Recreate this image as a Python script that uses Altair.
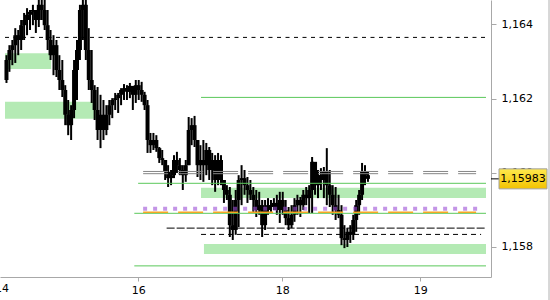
import altair as alt
import pandas as pd

# ---------------- data ----------------
opens = [1.16250, 1.16304, 1.16331, 1.16344, 1.16371, 1.16358, 1.16398, 1.16412, 1.16426, 1.16434,
         1.16439, 1.16412, 1.16453, 1.16439, 1.16398, 1.16358, 1.16317, 1.16344, 1.16277, 1.16250,
         1.16223, 1.16156, 1.16128, 1.16169, 1.16277, 1.16331, 1.16439, 1.16453, 1.16331, 1.16250,
         1.16223, 1.16169, 1.16115, 1.16156, 1.16115, 1.16156, 1.16182, 1.16196, 1.16201, 1.16210,
         1.16223, 1.16228, 1.16218, 1.16234, 1.16210, 1.16236, 1.16223, 1.16210, 1.16182, 1.16088,
         1.16074, 1.16088, 1.16066, 1.16039, 1.16034, 1.16002, 1.15985, 1.15993, 1.16034, 1.16020,
         1.16007, 1.15993, 1.16020, 1.16115, 1.16128, 1.16088, 1.16020, 1.16034, 1.16020, 1.16061,
         1.16007, 1.16034, 1.15980, 1.16034, 1.15980, 1.15953, 1.15940, 1.15858, 1.15845, 1.15926,
         1.15980, 1.15985, 1.15966, 1.15953, 1.15940, 1.15926, 1.15899, 1.15912, 1.15858, 1.15899,
         1.15912, 1.15907, 1.15918, 1.15899, 1.15926, 1.15899, 1.15877, 1.15858, 1.15886, 1.15912,
         1.15926, 1.15912, 1.15940, 1.15931, 1.15953, 1.16029, 1.15966, 1.15993, 1.15980, 1.16002,
         1.15966, 1.15940, 1.15912, 1.15899, 1.15886, 1.15823, 1.15818, 1.15840, 1.15832, 1.15872,
         1.15912, 1.15940, 1.16002, 1.15993]
highs = [1.16317, 1.16344, 1.16358, 1.16390, 1.16385, 1.16412, 1.16431, 1.16444, 1.16439, 1.16453,
         1.16434, 1.16480, 1.16480, 1.16474, 1.16439, 1.16385, 1.16371, 1.16358, 1.16317, 1.16304,
         1.16236, 1.16196, 1.16182, 1.16304, 1.16358, 1.16453, 1.16488, 1.16480, 1.16390, 1.16331,
         1.16236, 1.16231, 1.16210, 1.16196, 1.16182, 1.16196, 1.16201, 1.16215, 1.16215, 1.16228,
         1.16239, 1.16236, 1.16242, 1.16231, 1.16250, 1.16250, 1.16245, 1.16218, 1.16196, 1.16107,
         1.16107, 1.16101, 1.16069, 1.16061, 1.16034, 1.16020, 1.16007, 1.16047, 1.16056, 1.16039,
         1.16020, 1.16034, 1.16150, 1.16147, 1.16153, 1.16080, 1.16074, 1.16088, 1.16080, 1.16069,
         1.16053, 1.16047, 1.16053, 1.16047, 1.15972, 1.15966, 1.15961, 1.15926, 1.15953, 1.15993,
         1.16020, 1.16007, 1.15988, 1.15980, 1.15961, 1.15953, 1.15948, 1.15926, 1.15926, 1.15931,
         1.15926, 1.15931, 1.15940, 1.15948, 1.15948, 1.15926, 1.15907, 1.15912, 1.15931, 1.15940,
         1.15934, 1.15953, 1.15961, 1.15966, 1.16042, 1.16026, 1.16007, 1.16012, 1.16015, 1.16066,
         1.16007, 1.15966, 1.15961, 1.15940, 1.15912, 1.15858, 1.15850, 1.15858, 1.15886, 1.15926,
         1.15953, 1.16026, 1.16020, 1.16002]
lows = [1.16242, 1.16272, 1.16290, 1.16296, 1.16317, 1.16331, 1.16358, 1.16371, 1.16385, 1.16398,
        1.16377, 1.16393, 1.16412, 1.16385, 1.16331, 1.16304, 1.16263, 1.16258, 1.16223, 1.16204,
        1.16128, 1.16101, 1.16088, 1.16147, 1.16196, 1.16304, 1.16358, 1.16304, 1.16223, 1.16188,
        1.16142, 1.16088, 1.16066, 1.16088, 1.16101, 1.16128, 1.16147, 1.16169, 1.16161, 1.16182,
        1.16196, 1.16196, 1.16201, 1.16169, 1.16188, 1.16196, 1.16191, 1.16169, 1.16053, 1.16053,
        1.16061, 1.16056, 1.16026, 1.16020, 1.15980, 1.15961, 1.15966, 1.15985, 1.15999, 1.15993,
        1.15953, 1.15975, 1.16020, 1.16074, 1.16069, 1.15988, 1.15980, 1.15975, 1.15993, 1.15980,
        1.15966, 1.15948, 1.15966, 1.15966, 1.15918, 1.15926, 1.15826, 1.15818, 1.15832, 1.15853,
        1.15912, 1.15940, 1.15918, 1.15926, 1.15894, 1.15880, 1.15886, 1.15826, 1.15845, 1.15886,
        1.15894, 1.15899, 1.15886, 1.15864, 1.15886, 1.15858, 1.15845, 1.15850, 1.15867, 1.15886,
        1.15880, 1.15899, 1.15912, 1.15891, 1.15891, 1.15940, 1.15931, 1.15953, 1.15931, 1.15912,
        1.15907, 1.15886, 1.15872, 1.15877, 1.15804, 1.15796, 1.15799, 1.15810, 1.15818, 1.15840,
        1.15886, 1.15926, 1.15966, 1.15975]
closes = [1.16304, 1.16331, 1.16344, 1.16371, 1.16358, 1.16398, 1.16412, 1.16426, 1.16434, 1.16439,
          1.16412, 1.16453, 1.16439, 1.16398, 1.16358, 1.16317, 1.16344, 1.16277, 1.16250, 1.16223,
          1.16156, 1.16128, 1.16169, 1.16277, 1.16331, 1.16439, 1.16453, 1.16331, 1.16250, 1.16223,
          1.16169, 1.16115, 1.16156, 1.16115, 1.16156, 1.16182, 1.16196, 1.16201, 1.16210, 1.16223,
          1.16228, 1.16218, 1.16234, 1.16210, 1.16236, 1.16223, 1.16210, 1.16182, 1.16088, 1.16074,
          1.16088, 1.16066, 1.16039, 1.16034, 1.16002, 1.15985, 1.15993, 1.16034, 1.16020, 1.16007,
          1.15993, 1.16020, 1.16115, 1.16128, 1.16088, 1.16020, 1.16034, 1.16020, 1.16061, 1.16007,
          1.16034, 1.15980, 1.16034, 1.15980, 1.15953, 1.15940, 1.15858, 1.15845, 1.15926, 1.15980,
          1.15985, 1.15966, 1.15953, 1.15940, 1.15926, 1.15899, 1.15912, 1.15858, 1.15899, 1.15912,
          1.15907, 1.15918, 1.15899, 1.15926, 1.15899, 1.15877, 1.15858, 1.15886, 1.15912, 1.15926,
          1.15912, 1.15940, 1.15931, 1.15953, 1.16029, 1.15966, 1.15993, 1.15980, 1.16002, 1.15966,
          1.15940, 1.15912, 1.15899, 1.15886, 1.15823, 1.15818, 1.15840, 1.15832, 1.15872, 1.15912,
          1.15940, 1.16002, 1.15993, 1.15983]

X_MIN, X_END = -0.5, 163.17
Y_MIN, Y_MAX = 1.15718, 1.16466

# x axis: bar index; day labels ("14" sits just left of the visible range)
day_ticks = [-1.5, 44.83, 93.83, 140.83]
day_labels = ["14", "16", "18", "19"]
price_ticks = [1.158, 1.160, 1.162, 1.164]

# support / resistance zones (light green bands)
zone_top = [1.16322, 1.16191, 1.15959, 1.15807]
zone_bottom = [1.16280, 1.16145, 1.15931, 1.15780]
zone_start = [-0.5, -0.5, 66.2, 67.2]
zone_end = [15.2, 30.5, X_END, X_END]

# green levels
green_levels = [1.16203, 1.15971, 1.15890, 1.15748]
green_start = [66.2, 44.8, 43.5, 43.5]

# grey double level, orange level, purple dotted level
gray_levels = [1.16003, 1.15997]
orange_levels = [1.15893]
purple_levels = [1.15902]
seg_start, seg_end, purple_end = 46.5, 159.8, 161.5

# black dashed levels
dash_top_level = [1.16365]
dash_mid_level = [1.15850]
dash_mid_start = 54.5
dash_low_level = [1.15833]
dash_low_start = 66.2

# ---------------- chart ----------------
n = len(opens)
candles = pd.DataFrame({"i": list(range(n)), "open": opens, "high": highs,
                        "low": lows, "close": closes})

xs = alt.Scale(domain=[X_MIN, X_END], nice=False, zero=False)
ys = alt.Scale(domain=[Y_MIN, Y_MAX], nice=False, zero=False)

FONT = "DejaVu Sans"
AX_COL = "#a8a8a8"
axis_ticks = day_ticks[1:]
axis_labels = day_labels[1:]
label_expr_x = ("[" + ",".join("'%s'" % l for l in axis_labels) + "][indexof(["
                + ",".join(str(v) for v in axis_ticks) + "], datum.value)]")
xaxis = alt.Axis(values=axis_ticks, labelExpr=label_expr_x, title=None, grid=False,
                 domainColor=AX_COL, tickColor=AX_COL, tickSize=4, labelFont=FONT,
                 labelFontSize=11, labelColor="#000", labelFlush=False,
                 labelOverlap=False, labelPadding=3, zindex=0)
yaxis = alt.Axis(orient="right", values=price_ticks,
                 labelExpr="replace(format(datum.value, '.3f'), '.', ',')",
                 title=None, grid=False, domainColor=AX_COL, tickColor=AX_COL,
                 tickSize=5, labelFont=FONT, labelFontSize=11, labelColor="#000",
                 labelPadding=5, labelFlush=False, labelOverlap=False, zindex=0)


def X(f):
    return alt.X(f, type="quantitative", scale=xs, axis=xaxis)


def Y(f):
    return alt.Y(f, type="quantitative", scale=ys, axis=yaxis)


zones_df = pd.DataFrame({"top": zone_top, "bottom": zone_bottom,
                         "start": zone_start, "end": zone_end})
zones = alt.Chart(zones_df).mark_rect(color="#b4eab4", clip=True).encode(
    x=X("start"), x2="end", y=Y("top"), y2="bottom")

wicks = alt.Chart(candles).mark_rule(color="black", strokeWidth=2, clip=True).encode(
    x=X("i"), y=Y("low"), y2="high")
bodies = alt.Chart(candles).mark_bar(color="black", size=4, clip=True).encode(
    x=X("i"), y=Y("open"), y2="close")


def level_layer(levels, start, end, **mark):
    df = pd.DataFrame({"p": levels,
                       "s": start if isinstance(start, list) else [start] * len(levels),
                       "e": end if isinstance(end, list) else [end] * len(levels)})
    return alt.Chart(df).mark_rule(**mark).encode(x=X("s"), x2="e", y=Y("p"))


greens = level_layer(green_levels, green_start, X_END, color="#5ac85a", strokeWidth=1)
grays = level_layer(gray_levels, seg_start, seg_end, color="#858585", strokeWidth=1,
                    strokeDash=[25, 10])
orange = level_layer(orange_levels, seg_start, seg_end, color="#f5a623", strokeWidth=1.5,
                     strokeDash=[25, 10])
purple = level_layer(purple_levels, seg_start, purple_end, color="#9b4fd6", opacity=0.6,
                     strokeWidth=4, strokeDash=[4, 6], strokeCap="butt")
dash_top = level_layer(dash_top_level, X_MIN, X_END, color="black", strokeWidth=1,
                       strokeDash=[4, 4.5])
dash_mid = level_layer(dash_mid_level, dash_mid_start, X_END, color="black", strokeWidth=1,
                       strokeDash=[8, 2])
dash_low = level_layer(dash_low_level, dash_low_start, purple_end, color="black",
                       strokeWidth=1, strokeDash=[5, 4])

# first day label, mostly outside the view on the left
first_day = alt.Chart(pd.DataFrame({"d": day_ticks[:1], "t": day_labels[:1]})).mark_text(
    font=FONT, fontSize=11, color="#000", align="center", baseline="middle").encode(
    x=X("d"), y=alt.value(289), text="t:N")

last = candles.tail(1)
last_chart = alt.Chart(last).transform_calculate(
    top="datum.close + 0.00027", bot="datum.close - 0.00027",
    label="replace(format(datum.close, '.5f'), '.', ',')")
marker = last_chart.mark_rule(color="black", strokeWidth=1).encode(
    x=alt.value(491), x2=alt.value(499), y=Y("close"))
box = last_chart.mark_rect(
    fill=alt.Gradient(gradient="linear", x1=0, x2=0, y1=0, y2=1,
                      stops=[alt.GradientStop(color="#ffe94d", offset=0),
                             alt.GradientStop(color="#f2c200", offset=1)]),
    stroke="#a0a0a0", strokeWidth=1).encode(
    x=alt.value(499), x2=alt.value(547), y=Y("top:Q"), y2="bot:Q")
box_text = last_chart.mark_text(font=FONT, fontSize=11, color="black",
                                align="center", baseline="middle").encode(
    x=alt.value(523), y=Y("close"), text="label:N")
frame = alt.Chart(last).mark_rule(color="#b0b0b0", strokeWidth=1).encode(
    x=alt.value(549), y=alt.value(0), y2=alt.value(300))

chart = alt.layer(zones, wicks, bodies, greens, grays, orange, purple,
                  dash_top, dash_mid, dash_low, first_day, marker, box, box_text,
                  frame).properties(
    width=491, height=277,
    autosize=alt.AutoSizeParams(type="none"),
    padding={"left": 0, "top": 0, "right": 59, "bottom": 23},
    background="white",
).configure_view(stroke=None)

chart.save("out.html", embed_options={"renderer": "svg", "actions": False})
